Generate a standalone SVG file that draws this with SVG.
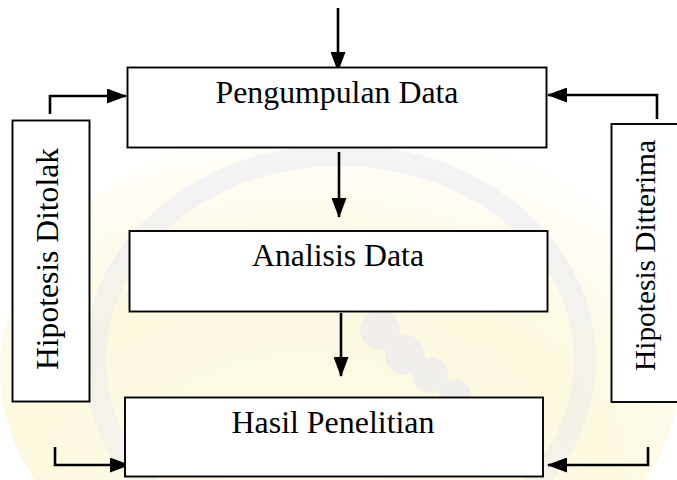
<svg xmlns="http://www.w3.org/2000/svg" width="677" height="480" viewBox="0 0 677 480">
  <style>
    .box { fill: #ffffff; stroke: #000000; stroke-width: 1.9; }
    .lbl { font-family: "Liberation Serif", "Times New Roman", serif; font-size: 31.5px; fill: #000000; text-anchor: middle; }
    .edge { fill: none; stroke: #000000; stroke-width: 2.6; }
  </style>
  <defs>
    <marker id="ah" viewBox="0 0 20 15" refX="19" refY="7.5" markerWidth="20" markerHeight="15" markerUnits="userSpaceOnUse" orient="auto">
      <path d="M0,0 L20,7.5 L0,15 Z" fill="#000000"/>
    </marker>
    <radialGradient id="wm" cx="0.45" cy="0.75" r="0.75">
      <stop offset="0" stop-color="#fffbe3"/>
      <stop offset="0.6" stop-color="#fdf8d8"/>
      <stop offset="1" stop-color="#ffffff"/>
    </radialGradient>
  </defs>
  <rect width="677" height="480" fill="#ffffff"/>
  <g id="watermark" opacity="0.8">
    <ellipse cx="340" cy="370" rx="340" ry="250" fill="url(#wm)"/>
    <ellipse cx="340" cy="360" rx="245" ry="205" fill="none" stroke="#e4e2f0" stroke-width="22" opacity="0.45"/>
    <g fill="#e2e2f2" opacity="0.55">
      <circle cx="380" cy="330" r="20"/>
      <circle cx="405" cy="355" r="20"/>
      <circle cx="430" cy="375" r="18"/>
      <circle cx="455" cy="395" r="16"/>
    </g>
  </g>
  <g id="connectors">
    <line class="edge" x1="338" y1="8" x2="338" y2="71" marker-end="url(#ah)"/>
    <line class="edge" x1="339" y1="152" x2="339" y2="217" marker-end="url(#ah)"/>
    <line class="edge" x1="341" y1="313" x2="341" y2="376" marker-end="url(#ah)"/>
    <polyline class="edge" points="50,114 50,96 126,96" marker-end="url(#ah)"/>
    <polyline class="edge" points="657,119 657,95 548,95" marker-end="url(#ah)"/>
    <polyline class="edge" points="55,447 55,465 129,465" marker-end="url(#ah)"/>
    <polyline class="edge" points="648,447 648,465 548,465" marker-end="url(#ah)"/>
  </g>
  <g id="pengumpulan">
    <rect class="box" x="127.5" y="67.5" width="419" height="80"/>
    <text class="lbl" x="337" y="103" textLength="243" lengthAdjust="spacingAndGlyphs">Pengumpulan Data</text>
  </g>
  <g id="analisis">
    <rect class="box" x="129.5" y="231" width="418" height="80.5"/>
    <text class="lbl" x="338" y="266" textLength="172" lengthAdjust="spacingAndGlyphs">Analisis Data</text>
  </g>
  <g id="hasil">
    <rect class="box" x="125" y="397.5" width="418" height="79"/>
    <text class="lbl" x="333" y="433" textLength="203" lengthAdjust="spacingAndGlyphs">Hasil Penelitian</text>
  </g>
  <g id="ditolak">
    <rect class="box" x="12.5" y="120.5" width="77" height="281"/>
    <text class="lbl" transform="translate(58,259) rotate(-90)" x="0" y="0" textLength="222" lengthAdjust="spacingAndGlyphs">Hipotesis Ditolak</text>
  </g>
  <g id="diterima">
    <rect class="box" x="611.5" y="124" width="80" height="278"/>
    <text class="lbl" transform="translate(655,255.5) rotate(-90)" x="0" y="0" style="font-size:29.5px" textLength="231" lengthAdjust="spacingAndGlyphs">Hipotesis Ditterima</text>
  </g>
</svg>
